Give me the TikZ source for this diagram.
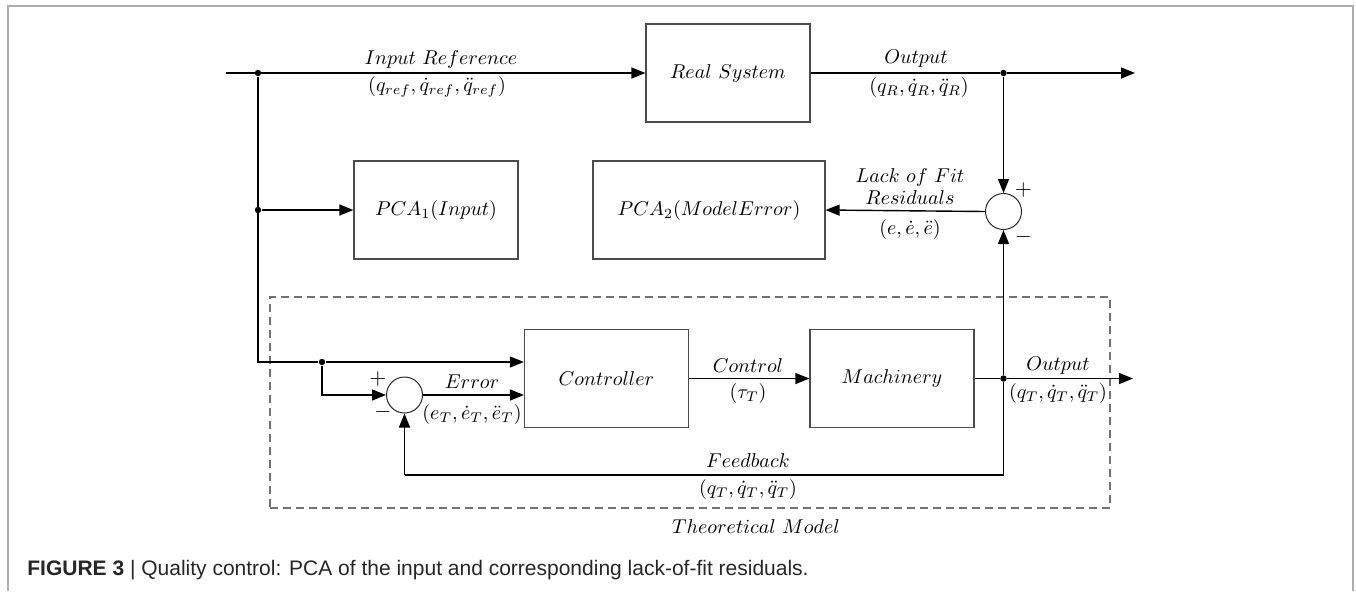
\documentclass[tikz,border=0pt]{standalone}
\usepackage{fontspec}
\newfontfamily\capfont{Liberation Sans}
\usetikzlibrary{arrows.meta,calc}
\begin{document}
\begin{tikzpicture}[x=0.5pt,y=-0.5pt,
  blk/.style={draw=black!70, line width=0.6pt, minimum width=82pt, minimum height=49pt, inner sep=0pt},
  sumnode/.style={draw=black!85, circle, minimum size=18pt, inner sep=0pt, line width=0.5pt},
  wire/.style={line width=0.7pt},
  arr/.style={wire, -{Triangle[length=7pt,width=5.5pt]}},
  dot/.style={circle, fill, inner sep=0pt, minimum size=3.2pt},
  lbl/.style={inner sep=0pt, font=\fontsize{10}{12}\selectfont},
  sgn/.style={inner sep=0pt, font=\fontsize{11}{12}\selectfont},
  tmbox/.style={draw=black!55, line width=0.6pt, dash pattern=on 4pt off 2.5pt, minimum width=420pt, minimum height=105.5pt, inner sep=0pt},
  frame/.style={draw=black!32, line width=1pt}
]
\useasboundingbox (0,0) rectangle (1356,591);
\draw[frame] (8,591) -- (8,6) -- (1353,6) -- (1353,591);

% theoretical model box
\node[tmbox] (tm) at (690,402.5) {};

% blocks
\node[blk] (rs) at (728,73) {$Real\ System$};
\node[blk] (pca1) at (436,210) {$PCA_1(Input)$};
\node[blk, minimum width=116pt] (pca2) at (709,210) {$PCA_2(ModelError)$};
\node[blk] (ctrl) at (606.5,378.5) {$Controller$};
\node[blk] (mach) at (892,378.5) {$Machinery$};
\node[sumnode] (s1) at (404.5,395) {};
\node[sumnode] (s2) at (1003.5,211.5) {};

% junctions and free ends
\coordinate (in) at (226,73);
\node[dot] (d1) at (258,73) {};
\node[dot] (d2) at (258,210) {};
\coordinate (c1) at (258,362);
\node[dot] (d3) at (322,362) {};
\node[dot] (d4) at (1003.5,73) {};
\coordinate (o1) at (1135,73);
\node[dot] (d5) at (1003.5,378.5) {};
\coordinate (o2) at (1133,378.5);
\coordinate (f2) at (404.5,475);

% connectors
\draw[arr] (in) -- (rs.west);
\draw[wire] (d1) -- (c1) -- (d3);
\draw[arr] (d3) -- (ctrl.west |- d3);
\draw[arr] (d2) -- (pca1.west |- d2);
\draw[arr] (d3) |- (s1.west);
\draw[arr] (s1.east) -- (ctrl.west |- s1.east);
\draw[arr] (ctrl.east) -- (mach.west);
\draw[wire] (mach.east) -- (d5);
\draw[arr] (d5) -- (o2);
\draw[arr] (d5) -- (s2.south);
\draw[wire] (d5) |- (f2);
\draw[arr] (f2) -- (s1.south);
\draw[wire] (rs.east) -- (d4);
\draw[arr] (d4) -- (o1);
\draw[arr] (d4) -- (s2.north);
\draw[arr] (s2.west) -- (pca2.east);

% labels
\node[lbl] (l1) at (441,59) {$Input\ Reference$};
\node[lbl] (l2) at (437,87) {$(q_{ref},\dot{q}_{ref},\ddot{q}_{ref})$};
\node[lbl] (l3) at (916,59) {$Output$};
\node[lbl] (l4) at (919,87) {$(q_R,\dot{q}_R,\ddot{q}_R)$};
\node[lbl] (l5) at (910,177) {$Lack\ of\ Fit$};
\node[lbl] (l6) at (910,198) {$Residuals$};
\node[lbl] (l7) at (910,229) {$(e,\dot{e},\ddot{e})$};
\node[sgn] (p2) at (1023.5,190) {$+$};
\node[sgn] (m2) at (1023.5,237) {$-$};
\node[lbl] (l8) at (472,382) {$Error$};
\node[lbl] (l9) at (472,414) {$(e_T,\dot{e}_T,\ddot{e}_T)$};
\node[sgn] (p1) at (378,379) {$+$};
\node[sgn] (m1) at (383,412) {$-$};
\node[lbl] (l10) at (748,366) {$Control$};
\node[lbl] (l11) at (748,393) {$(\tau_T)$};
\node[lbl] (l12) at (1058,366) {$Output$};
\node[lbl] (l13) at (1058,393) {$(q_T,\dot{q}_T,\ddot{q}_T)$};
\node[lbl] (l14) at (748,461) {$Feedback$};
\node[lbl] (l15) at (748,489) {$(q_T,\dot{q}_T,\ddot{q}_T)$};
\node[lbl] (l16) at (756,527) {$Theoretical\ Model$};

% caption
\node[anchor=west, inner sep=0pt, text=black!85, font=\capfont\fontsize{10.5}{12}\selectfont] (cap) at (27,570) {\textbf{FIGURE 3} | Quality control: PCA of the input and corresponding lack-of-fit residuals.};
\end{tikzpicture}
\end{document}
